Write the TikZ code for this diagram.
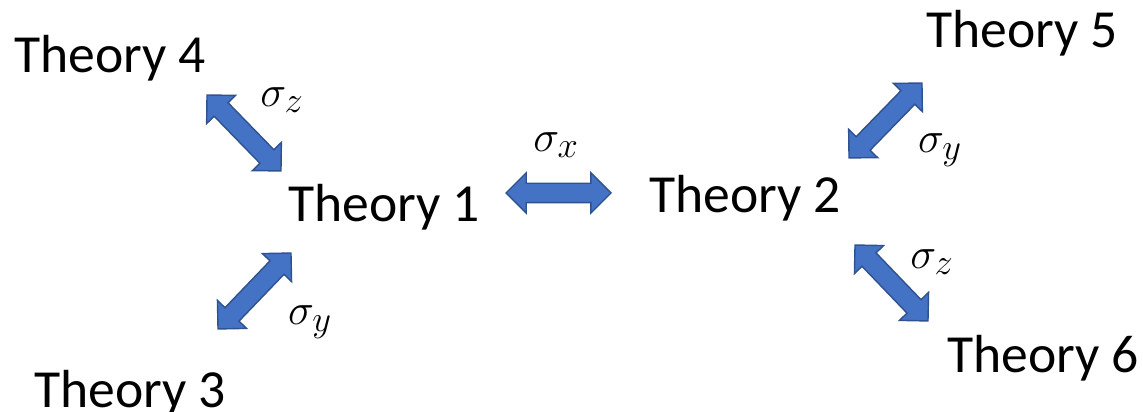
\documentclass[tikz,border=0pt]{standalone}
\usepackage{fontspec}
\setmainfont{Carlito}
\usetikzlibrary{calc,shapes.arrows}
\definecolor{arrowfill}{RGB}{68,114,196}
\definecolor{arrowedge}{RGB}{47,82,143}
\tikzset{
  theory/.style={font=\fontsize{30.5}{36}\selectfont, inner sep=0pt, anchor=base},
  swaplabel/.style={font=\fontsize{32}{38}\selectfont, inner sep=0pt},
  swaparrow/.style={double arrow, draw=arrowedge, fill=arrowfill, line width=0.8pt,
    inner xsep=0pt, inner ysep=0.18cm, minimum width=0.78cm, double arrow head extend=0.21cm}
}
\begin{document}
\begin{tikzpicture}
			\useasboundingbox (0,0) rectangle (22.86,8.24);
			
			\node[theory] (t1) at (7.68,3.80) {Theory 1};
			\node[theory] (t2) at (14.90,3.98) {Theory 2};
			\node[theory] (t3) at (2.60,0.08) {Theory 3};
			\node[theory] (t4) at (2.20,6.78) {Theory 4};
			\node[theory] (t5) at (20.44,7.28) {Theory 5};
			\node[theory] (t6) at (20.86,0.78) {Theory 6};
			
			% arrow ends
			\coordinate (a41) at (4.14,6.34);
			\coordinate (a14) at (5.62,4.82);
			\coordinate (a12) at (10.12,4.38);
			\coordinate (a21) at (12.22,4.38);
			\coordinate (a13) at (5.82,3.18);
			\coordinate (a31) at (4.36,1.66);
			\coordinate (a25) at (16.98,5.08);
			\coordinate (a52) at (18.44,6.58);
			\coordinate (a26) at (17.10,3.34);
			\coordinate (a62) at (18.56,1.82);
			
			\foreach \from/\to/\name in {a41/a14/s14, a12/a21/s12, a13/a31/s13, a25/a52/s25, a26/a62/s26}
				\path let \p1=($(\to)-(\from)$), \n1={atan2(\y1,\x1)}, \n2={veclen(\x1,\y1)} in
					node[swaparrow, minimum height=\n2, rotate=\n1] (\name) at ($(\from)!0.5!(\to)$) {};
			
			\node[swaplabel] (l14) at (5.64,6.24) {$\sigma_z$};
			\node[swaplabel] (l12) at (11.12,5.34) {$\sigma_x$};
			\node[swaplabel] (l13) at (6.20,1.80) {$\sigma_y$};
			\node[swaplabel] (l25) at (18.80,5.24) {$\sigma_y$};
			\node[swaplabel] (l26) at (18.64,3.00) {$\sigma_z$};
\end{tikzpicture}
\end{document}
